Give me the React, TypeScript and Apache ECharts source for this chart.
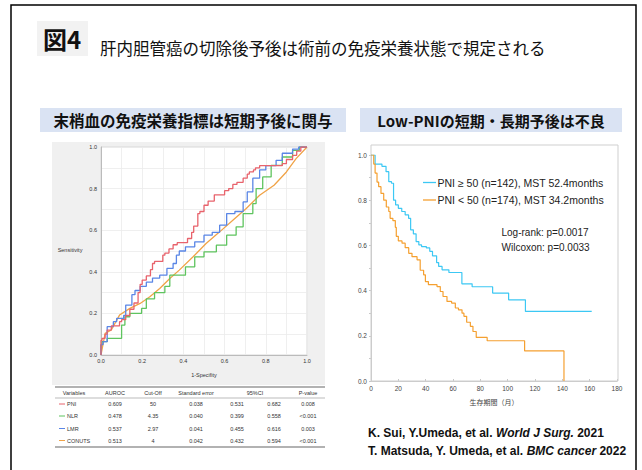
import React, { useEffect, useRef } from 'react';
import * as echarts from 'echarts';

// ---------- ROC data (1-specificity, sensitivity) ----------
const rocPNI: [number, number][] = [
  [0, 0], [0.005, 0.07], [0.02, 0.08], [0.03, 0.1], [0.05, 0.12], [0.07, 0.14], [0.09, 0.14],
  [0.1, 0.16], [0.12, 0.17], [0.14, 0.19], [0.16, 0.22], [0.18, 0.25], [0.19, 0.3], [0.2, 0.34],
  [0.22, 0.36], [0.24, 0.38], [0.25, 0.41], [0.26, 0.44], [0.3, 0.45], [0.31, 0.48], [0.33, 0.49],
  [0.35, 0.51], [0.37, 0.53], [0.42, 0.54], [0.44, 0.56], [0.45, 0.59], [0.47, 0.62], [0.48, 0.68],
  [0.5, 0.69], [0.52, 0.72], [0.55, 0.74], [0.56, 0.77], [0.6, 0.77], [0.62, 0.79], [0.64, 0.8],
  [0.66, 0.82], [0.69, 0.83], [0.71, 0.85], [0.72, 0.87], [0.74, 0.88], [0.75, 0.89], [0.77, 0.9],
  [0.8, 0.91], [0.88, 0.91], [0.9, 0.92], [0.93, 0.94], [0.95, 0.96], [0.97, 0.98], [1, 1],
];
const rocLMR: [number, number][] = [
  [0, 0], [0.01, 0.05], [0.03, 0.064], [0.045, 0.136], [0.06, 0.136], [0.076, 0.16], [0.11, 0.176],
  [0.12, 0.19], [0.15, 0.24], [0.165, 0.29], [0.19, 0.31], [0.22, 0.33], [0.25, 0.35], [0.285, 0.37],
  [0.32, 0.384], [0.35, 0.416], [0.366, 0.44], [0.38, 0.48], [0.41, 0.5], [0.455, 0.52], [0.5, 0.544],
  [0.54, 0.576], [0.576, 0.59], [0.61, 0.624], [0.65, 0.68], [0.69, 0.69], [0.71, 0.736], [0.737, 0.784],
  [0.77, 0.85], [0.8, 0.89], [0.85, 0.91], [0.88, 0.936], [0.93, 0.97], [0.96, 0.99], [1, 1],
];
const rocNLR: [number, number][] = [
  [0, 0], [0.005, 0.048], [0.03, 0.064], [0.045, 0.08], [0.1, 0.08], [0.116, 0.144], [0.14, 0.184],
  [0.197, 0.2], [0.22, 0.224], [0.26, 0.27], [0.31, 0.3], [0.334, 0.33], [0.358, 0.384], [0.41, 0.384],
  [0.455, 0.424], [0.5, 0.472], [0.56, 0.496], [0.61, 0.528], [0.656, 0.576], [0.69, 0.616],
  [0.737, 0.68], [0.753, 0.728], [0.785, 0.8], [0.826, 0.856], [0.88, 0.912], [0.93, 0.952],
  [0.963, 0.984], [1, 1],
];
const rocCONUTS: [number, number][] = [
  [0, 0], [0.02, 0.104], [0.05, 0.12], [0.09, 0.192], [0.14, 0.224], [0.19, 0.248], [0.237, 0.28],
  [0.285, 0.32], [0.334, 0.368], [0.38, 0.408], [0.447, 0.472], [0.51, 0.536], [0.576, 0.592],
  [0.64, 0.648], [0.705, 0.704], [0.77, 0.768], [0.84, 0.816], [0.9, 0.88], [0.947, 0.944], [1, 1],
];

// ---------- Table ----------
const tableHeaders = ['Variables', 'AUROC', 'Cut-Off', 'Standard error', '95%CI', 'P-value'];
const tableVars = ['PNI', 'NLR', 'LMR', 'CONUTS'];
const auroc = ['0.609', '0.478', '0.537', '0.513'];
const cutOff = ['50', '4.35', '2.97', '4'];
const stdError = ['0.038', '0.040', '0.041', '0.042'];
const ciLow = ['0.531', '0.399', '0.455', '0.432'];
const ciHigh = ['0.682', '0.558', '0.616', '0.594'];
const pValue = ['0.008', '<0.001', '0.003', '<0.001'];

// ---------- Kaplan-Meier data (months, survival) ----------
const kmHigh: [number, number][] = [
  [0, 1.0], [3, 0.96], [8, 0.95], [11, 0.926], [13, 0.882], [15, 0.875], [16.5, 0.8], [18, 0.779],
  [20, 0.764], [22.5, 0.75], [25, 0.735], [27.5, 0.72], [29, 0.669], [31, 0.651], [33, 0.617],
  [35, 0.602], [37, 0.595], [40.5, 0.589], [43, 0.574], [45, 0.554], [48, 0.524], [49.5, 0.507],
  [52, 0.492], [57, 0.48], [66.5, 0.43], [74, 0.417], [89, 0.389], [100.7, 0.359], [113, 0.308],
  [161.5, 0.308],
];
const kmLow: [number, number][] = [
  [0, 1.0], [2, 0.96], [3, 0.92], [4.4, 0.88], [5.6, 0.86], [7.3, 0.83], [9.3, 0.8], [11.2, 0.77],
  [13, 0.75], [14, 0.72], [16, 0.71], [17.8, 0.68], [18.5, 0.64], [20, 0.62], [22.7, 0.61], [25, 0.59],
  [27.6, 0.565], [30, 0.55], [33.7, 0.536], [36, 0.49], [38.5, 0.47], [39.8, 0.44], [42, 0.426],
  [48.3, 0.418], [50.7, 0.396], [52.7, 0.374], [55.6, 0.352], [59, 0.345], [61.7, 0.323], [64, 0.315],
  [66.6, 0.3], [68, 0.286], [70, 0.26], [72.7, 0.242], [74.6, 0.219], [77, 0.193], [85, 0.178],
  [112.4, 0.133], [141.2, 0],
];
const kmLegend = ['PNI ≥ 50 (n=142), MST 52.4months', 'PNI < 50 (n=174), MST 34.2months'];
const kmStats = ['Log-rank: p=0.0017', 'Wilcoxon: p=0.0033'];

const C_PNI = '#e8636c';
const C_NLR = '#5fc45f';
const C_LMR = '#5a86e6';
const C_CON = '#f0a347';
const C_HIGH = '#3cc8f4';
const C_LOW = '#f5a030';

const JP = '"Noto Sans CJK JP", "Noto Sans", sans-serif';
const LAT = '"Liberation Sans", Arial, sans-serif';

export default function App() {
  const ref = useRef<HTMLDivElement>(null);
  useEffect(() => {
    const chart = echarts.init(ref.current!, null, { renderer: 'svg' });

    const tableColors = [C_PNI, C_NLR, C_LMR, C_CON];
    const rowsY = [404, 416, 428.5, 440.5];
    const colX = [115, 153, 196, 237, 274, 308];
    const headerX = [74, 115, 153, 196, 255, 308];
    const cellStyle = (t: string, align = 'center') => ({
      text: t, fontSize: 5.5, fontFamily: LAT, fill: '#333', align, verticalAlign: 'middle',
    });
    const table: any[] = [];
    table.push({ type: 'line', shape: { x1: 55, y1: 387, x2: 325, y2: 387 }, style: { stroke: '#999', lineWidth: 1.5 } });
    table.push({ type: 'line', shape: { x1: 55, y1: 398, x2: 325, y2: 398 }, style: { stroke: '#aaa', lineWidth: 0.8 } });
    table.push({ type: 'line', shape: { x1: 55, y1: 447, x2: 325, y2: 447 }, style: { stroke: '#999', lineWidth: 1.5 } });
    tableHeaders.forEach((h, i) => {
      table.push({ type: 'text', x: headerX[i], y: 393, style: cellStyle(h) });
    });
    tableVars.forEach((v, r) => {
      const y = rowsY[r];
      table.push({ type: 'line', shape: { x1: 59, y1: y, x2: 65, y2: y }, style: { stroke: tableColors[r], lineWidth: 1 } });
      table.push({ type: 'text', x: 67, y, style: cellStyle(v, 'left') });
      [auroc[r], cutOff[r], stdError[r], ciLow[r], ciHigh[r], pValue[r]].forEach((val, c) => {
        table.push({ type: 'text', x: colX[c], y, style: cellStyle(val) });
      });
    });

    const option: any = {
      animation: false,
      backgroundColor: '#ffffff',
      grid: [
        { left: 101, top: 147, width: 206, height: 208, show: true, backgroundColor: '#fff', borderColor: '#d8d8d8', borderWidth: 1 },
        { left: 371, top: 155, width: 246, height: 226, show: false },
      ],
      xAxis: [
        {
          gridIndex: 0, type: 'value', min: 0, max: 1, interval: 0.1,
          name: '1-Specifity', nameLocation: 'middle', nameGap: 17,
          nameTextStyle: { fontSize: 5.5, fontFamily: LAT, color: '#333' },
          axisLine: { lineStyle: { color: '#bbb' } }, axisTick: { show: false },
          axisLabel: {
            fontSize: 5.5, fontFamily: LAT, color: '#333', margin: 3,
            formatter: (v: number) => (Math.abs(v * 5 - Math.round(v * 5)) < 1e-6 ? v.toFixed(1) : ''),
          },
          splitLine: { show: true, lineStyle: { color: '#ebebeb', width: 0.8 } },
        },
        {
          gridIndex: 1, type: 'value', min: 0, max: 180, interval: 20,
          axisLine: { lineStyle: { color: '#c8c8c8' } },
          axisTick: { show: true, inside: true, length: 2, lineStyle: { color: '#c8c8c8' } },
          axisLabel: { fontSize: 6.5, fontFamily: LAT, color: '#444', margin: 4 },
          splitLine: { show: false },
          name: '生存期間（月）', nameLocation: 'middle', nameGap: 17,
          nameTextStyle: { fontSize: 7, fontFamily: JP, color: '#444' },
        },
      ],
      yAxis: [
        {
          gridIndex: 0, type: 'value', min: 0, max: 1, interval: 0.1,
          axisLine: { show: true, lineStyle: { color: '#bbb' } }, axisTick: { show: false },
          axisLabel: {
            fontSize: 5.5, fontFamily: LAT, color: '#333', margin: 4,
            formatter: (v: number) => (Math.abs(v * 5 - Math.round(v * 5)) < 1e-6 ? v.toFixed(1) : ''),
          },
          splitLine: { show: true, lineStyle: { color: '#ebebeb', width: 0.8 } },
        },
        {
          gridIndex: 1, type: 'value', min: 0, max: 1, interval: 0.1,
          axisLine: { show: true, lineStyle: { color: '#c8c8c8' } },
          axisTick: { show: true, length: 2, lineStyle: { color: '#c8c8c8' } },
          axisLabel: {
            fontSize: 6.5, fontFamily: LAT, color: '#444', margin: 4,
            formatter: (v: number) => (Math.abs(v * 5 - Math.round(v * 5)) < 1e-6 ? v.toFixed(1) : ''),
          },
          splitLine: { show: false },
        },
      ],
      series: [
        { type: 'line', xAxisIndex: 0, yAxisIndex: 0, data: rocCONUTS, symbol: 'none', lineStyle: { color: C_CON, width: 1.3 }, z: 3 },
        { type: 'line', xAxisIndex: 0, yAxisIndex: 0, data: rocNLR, step: 'start', symbol: 'none', lineStyle: { color: C_NLR, width: 1.3 }, z: 4 },
        { type: 'line', xAxisIndex: 0, yAxisIndex: 0, data: rocLMR, step: 'start', symbol: 'none', lineStyle: { color: C_LMR, width: 1.3 }, z: 5 },
        { type: 'line', xAxisIndex: 0, yAxisIndex: 0, data: rocPNI, step: 'start', symbol: 'none', lineStyle: { color: C_PNI, width: 1.3 }, z: 6 },
        { type: 'line', xAxisIndex: 1, yAxisIndex: 1, data: kmHigh, step: 'end', symbol: 'none', lineStyle: { color: C_HIGH, width: 1.2 }, z: 5 },
        { type: 'line', xAxisIndex: 1, yAxisIndex: 1, data: kmLow, step: 'end', symbol: 'none', lineStyle: { color: C_LOW, width: 1.2 }, z: 5 },
      ],
      graphic: [
        // outer border
        { type: 'rect', shape: { x: 11, y: 5, width: 625, height: 490 }, style: { fill: 'none', stroke: '#000', lineWidth: 1.5 }, z: 100 },
        // figure label
        { type: 'rect', shape: { x: 37, y: 21, width: 51, height: 35 }, style: { fill: '#f2f2f2' }, z: -10 },
        { type: 'text', x: 62, y: 38, style: { text: '図4', fontSize: 24, fontWeight: 'bold', fontFamily: JP, fill: '#111', align: 'center', verticalAlign: 'middle' } },
        { type: 'text', x: 100, y: 48, style: { text: '肝内胆管癌の切除後予後は術前の免疫栄養状態で規定される', fontSize: 16.5, fontFamily: JP, fill: '#111', align: 'left', verticalAlign: 'middle' } },
        // subtitle boxes
        { type: 'rect', shape: { x: 40, y: 108, width: 306, height: 24 }, style: { fill: '#dae3f3' }, z: -10 },
        { type: 'text', x: 193, y: 120, style: { text: '末梢血の免疫栄養指標は短期予後に関与', fontSize: 15.5, fontWeight: 'bold', fontFamily: JP, fill: '#111', align: 'center', verticalAlign: 'middle' } },
        { type: 'rect', shape: { x: 360, y: 108, width: 262, height: 24 }, style: { fill: '#dae3f3' }, z: -10 },
        { type: 'text', x: 491, y: 120, style: { text: 'Low-PNIの短期・長期予後は不良', fontSize: 15, fontWeight: 'bold', fontFamily: JP, fill: '#111', align: 'center', verticalAlign: 'middle' } },
        // left panel gray background
        { type: 'rect', shape: { x: 52, y: 142, width: 273, height: 243 }, style: { fill: '#f0f0f0' }, z: -10 },
        { type: 'text', x: 70, y: 250, style: { text: 'Sensitivity', fontSize: 5.5, fontFamily: LAT, fill: '#333', align: 'center', verticalAlign: 'middle' } },
        ...table,
        // KM frame
        { type: 'rect', shape: { x: 371, y: 145, width: 247, height: 236 }, style: { fill: 'none', stroke: '#cfcfcf', lineWidth: 1 }, z: 1 },
        // KM legend
        { type: 'line', shape: { x1: 423, y1: 182.5, x2: 436, y2: 182.5 }, style: { stroke: C_HIGH, lineWidth: 1.3 } },
        { type: 'text', x: 437.5, y: 182.5, style: { text: kmLegend[0], fontSize: 10.5, fontFamily: LAT, fill: '#222', align: 'left', verticalAlign: 'middle' } },
        { type: 'line', shape: { x1: 423, y1: 200, x2: 436, y2: 200 }, style: { stroke: C_LOW, lineWidth: 1.3 } },
        { type: 'text', x: 437.5, y: 200, style: { text: kmLegend[1], fontSize: 10.5, fontFamily: LAT, fill: '#222', align: 'left', verticalAlign: 'middle' } },
        { type: 'text', x: 501.5, y: 232, style: { text: kmStats[0], fontSize: 10, fontFamily: LAT, fill: '#222', align: 'left', verticalAlign: 'middle' } },
        { type: 'text', x: 501.5, y: 247.5, style: { text: kmStats[1], fontSize: 10, fontFamily: LAT, fill: '#222', align: 'left', verticalAlign: 'middle' } },
        // citations
        {
          type: 'text', x: 368, y: 433,
          style: {
            text: '{b|K. Sui, Y.Umeda, et al. }{i|World J Surg.}{b| 2021}', verticalAlign: 'middle', fill: '#111',
            rich: {
              b: { fontSize: 12, fontWeight: 'bold', fontFamily: LAT, fill: '#111' },
              i: { fontSize: 12, fontWeight: 'bold', fontStyle: 'italic', fontFamily: LAT, fill: '#111' },
            },
          },
        },
        {
          type: 'text', x: 368, y: 451,
          style: {
            text: '{b|T. Matsuda, Y. Umeda, et al. }{i|BMC cancer}{b| 2022}', verticalAlign: 'middle', fill: '#111',
            rich: {
              b: { fontSize: 12, fontWeight: 'bold', fontFamily: LAT, fill: '#111' },
              i: { fontSize: 12, fontWeight: 'bold', fontStyle: 'italic', fontFamily: LAT, fill: '#111' },
            },
          },
        },
      ],
    };
    chart.setOption(option);
    return () => chart.dispose();
  }, []);
  return <div ref={ref} style={{ position: 'fixed', left: 0, top: 0, width: 642, height: 470 }} />;
}
